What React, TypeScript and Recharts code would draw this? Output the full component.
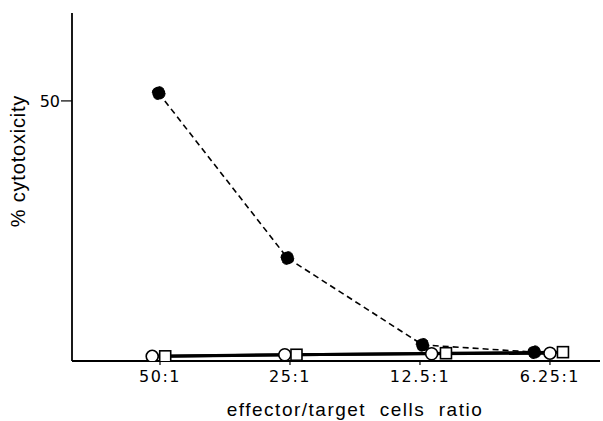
import React from 'react';
import { LineChart, Line, XAxis, YAxis, Label } from 'recharts';

// x positions (in tick units, 0 = 50:1 ... 3 = 6.25:1)
const tickLabels = ['50:1', '25:1', '12.5:1', '6.25:1'];
const tickPositions = [0, 1, 2, 3];

const filledX = [-0.01, 0.98, 2.02, 2.88];
const filledY = [51.5, 19.8, 3.1, 1.7];

const openCircleX = [-0.06, 0.96, 2.09, 3.0];
const openCircleY = [0.9, 1.2, 1.4, 1.5];

const squareX = [0.04, 1.05, 2.2, 3.1];
const squareY = [0.9, 1.2, 1.5, 1.7];

const toRows = (xs: number[], ys: number[]) => xs.map((x, i) => ({ x, y: ys[i] }));

const filledData = toRows(filledX, filledY);
const circleData = toRows(openCircleX, openCircleY);
const squareData = toRows(squareX, squareY);

const FONT = '"Liberation Sans", Arial, Helvetica, sans-serif';
const TICK_FONT = '"DejaVu Sans", "Liberation Sans", sans-serif';

const SquareDot = (props: any) => {
  const { cx, cy } = props;
  if (cx == null || cy == null) return null;
  return <rect x={cx - 5.5} y={cy - 5.5} width={11} height={11} fill="#fff" stroke="#000" strokeWidth={1.6} />;
};

const XTitle = (props: any) => {
  const vb = props.viewBox || {};
  const cx = (vb.x ?? 0) + (vb.width ?? 0) / 2 + 19;
  return (
    <text x={cx} y={416} textAnchor="middle" fill="#000" fontSize={19} fontFamily={FONT} letterSpacing={1.5} xmlSpace="preserve" style={{ whiteSpace: 'pre' }}>
      {'effector/target  cells  ratio'}
    </text>
  );
};

const YTitle = (props: any) => {
  const vb = props.viewBox || {};
  const cy = (vb.y ?? 0) + (vb.height ?? 0) / 2 - 26;
  const x = 18;
  return (
    <text x={x} y={cy} transform={`rotate(-90 ${x} ${cy})`} textAnchor="middle" dominantBaseline="central" fill="#000" fontSize={20} fontFamily={FONT} letterSpacing={0.8}>
      % cytotoxicity
    </text>
  );
};

export default function App() {
  return (
    <div style={{ position: 'absolute', left: 0, top: 0, background: '#fff' }}>
      <LineChart width={603} height={421} margin={{ top: 13, right: 3, bottom: 15, left: 12 }}>
        <XAxis
          type="number"
          dataKey="x"
          domain={[-0.677, 3.385]}
          allowDataOverflow
          ticks={tickPositions}
          tickFormatter={(v: number) => tickLabels[v] ?? ''}
          height={45}
          axisLine={{ stroke: '#000', strokeWidth: 1.8 }}
          tickLine={{ stroke: '#000', strokeWidth: 1.2 }}
          tickSize={4}
          tickMargin={6}
          tick={{ fill: '#000', fontSize: 16, fontFamily: TICK_FONT, letterSpacing: 1.5 }}
        >
          <Label content={<XTitle />} />
        </XAxis>
        <YAxis
          type="number"
          domain={[0, 66.9]}
          allowDataOverflow
          ticks={[50]}
          width={60}
          axisLine={{ stroke: '#000', strokeWidth: 1.8 }}
          tickLine={{ stroke: '#000', strokeWidth: 1.2 }}
          tickSize={11}
          tickMargin={1}
          tick={{ fill: '#000', fontSize: 16, fontFamily: TICK_FONT }}
        >
          <Label content={<YTitle />} />
        </YAxis>
        <Line
          data={circleData}
          dataKey="y"
          stroke="#000"
          strokeWidth={3}
          dot={{ r: 6, fill: '#fff', stroke: '#000', strokeWidth: 1.6 }}
          isAnimationActive={false}
        />
        <Line
          data={squareData}
          dataKey="y"
          stroke="#000"
          strokeWidth={3}
          dot={<SquareDot />}
          isAnimationActive={false}
        />
        <Line
          data={filledData}
          dataKey="y"
          stroke="#000"
          strokeWidth={1.6}
          strokeDasharray="6 4"
          dot={{ r: 6.5, fill: '#000', stroke: '#000', strokeWidth: 1 }}
          isAnimationActive={false}
        />
      </LineChart>
    </div>
  );
}
